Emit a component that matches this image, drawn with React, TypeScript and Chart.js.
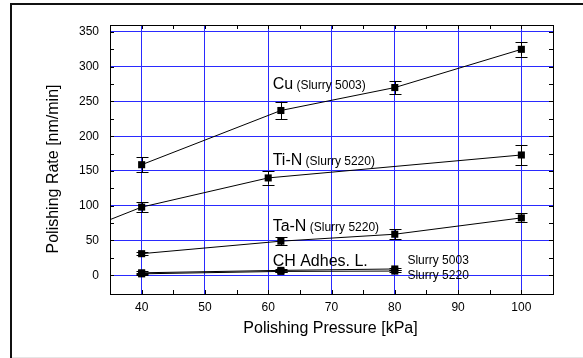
import React, { useEffect, useRef } from "react";
import { Chart, registerables } from "chart.js";

Chart.register(...registerables);

// ---- data ----
const xTicks = [40, 50, 60, 70, 80, 90, 100];
const yTicks = [0, 50, 100, 150, 200, 250, 300, 350];

const cuX = [40, 62, 80, 100];
const cuY = [159, 237, 270, 325];
const cuErr = [11, 12.5, 9.5, 10.5];

const tinX = [35, 40, 60, 100];
const tinY = [80, 98, 140, 173];
const tinErr = [0, 7, 9.5, 14.5];
const tinMarker = [0, 1, 1, 1];

const tanX = [40, 62, 80, 100];
const tanY = [31, 49, 59, 82.5];
const tanErr = [2.5, 6, 7.5, 6.5];

const ch5003X = [40, 62, 80];
const ch5003Y = [3.5, 7, 9];
const ch5003Err = [2, 2, 2];

const ch5220X = [40, 62, 80];
const ch5220Y = [2, 5.5, 6];
const ch5220Err = [1.5, 1.5, 1.5];

// text annotations: [x, y (baseline, data units), [text, size] parts]
const notes: { x: number; y: number; parts: [string, number][] }[] = [
  { x: 60.7, y: 268, parts: [["Cu", 16], [" (Slurry 5003)", 12]] },
  { x: 60.7, y: 158.5, parts: [["Ti-N", 16], [" (Slurry 5220)", 12]] },
  { x: 60.7, y: 63, parts: [["Ta-N", 16], [" (Slurry 5220)", 12]] },
  { x: 60.7, y: 14, parts: [["CH Adhes. L.", 16]] },
  { x: 82, y: 15.5, parts: [["Slurry 5003", 12]] },
  { x: 82, y: -6, parts: [["Slurry 5220", 12]] },
];

const xTitle = "Polishing Pressure [kPa]";
const yTitle = "Polishing Rate [nm/min]";

const FONT = "'Liberation Sans', Arial, sans-serif";

function pts(xs: number[], ys: number[]) {
  return xs.map((x, i) => ({ x, y: ys[i] }));
}

export default function App() {
  const ref = useRef<HTMLCanvasElement | null>(null);

  useEffect(() => {
    if (!ref.current) return;

    const mk = (label: string, xs: number[], ys: number[], err: number[], marker?: number[]) => ({
      label,
      data: pts(xs, ys),
      err,
      borderColor: "#000",
      backgroundColor: "#000",
      borderWidth: 1,
      pointStyle: "rect",
      pointRadius: marker ? marker.map((m) => (m ? 5 : 0)) : 5,
      pointBorderWidth: 0,
      showLine: true,
      tension: 0,
    });

    const decor = {
      id: "decor",
      beforeDraw(chart: any) {
        const c = chart.ctx;
        c.save();
        c.fillStyle = "#fff";
        c.fillRect(0, 0, chart.width, chart.height);
        // outer frame (left + top)
        c.fillStyle = "#111";
        c.fillRect(10, 3, 2, chart.height - 3);
        c.fillRect(10, 3, chart.width - 10, 2);
        c.fillStyle = "#e6e6e6";
        c.fillRect(12, chart.height - 1, chart.width - 12, 1);
        c.restore();
      },
      afterDatasetsDraw(chart: any) {
        const c = chart.ctx;
        const xs = chart.scales.x;
        const ys = chart.scales.y;
        c.save();
        c.strokeStyle = "#000";
        c.lineWidth = 1;
        chart.data.datasets.forEach((ds: any) => {
          ds.data.forEach((p: any, i: number) => {
            const e = ds.err ? ds.err[i] : 0;
            if (!e) return;
            const px = Math.round(xs.getPixelForValue(p.x)) + 0.5;
            const y1 = ys.getPixelForValue(p.y + e);
            const y2 = ys.getPixelForValue(p.y - e);
            c.beginPath();
            c.moveTo(px, y1);
            c.lineTo(px, y2);
            c.moveTo(px - 6, Math.round(y1) + 0.5);
            c.lineTo(px + 6, Math.round(y1) + 0.5);
            c.moveTo(px - 6, Math.round(y2) + 0.5);
            c.lineTo(px + 6, Math.round(y2) + 0.5);
            c.stroke();
          });
        });
        c.restore();
      },
      afterDraw(chart: any) {
        const c = chart.ctx;
        const a = chart.chartArea;
        const xs = chart.scales.x;
        const ys = chart.scales.y;
        c.save();
        // plot border
        c.strokeStyle = "#000";
        c.lineWidth = 1;
        c.strokeRect(Math.round(a.left) + 0.5, Math.round(a.top) + 0.5, Math.round(a.right - a.left), Math.round(a.bottom - a.top));
        // inward ticks
        c.beginPath();
        for (let v = 35; v <= 105; v += 5) {
          const px = Math.round(xs.getPixelForValue(v)) + 0.5;
          if (px <= a.left + 1 || px >= a.right - 1) continue;
          c.moveTo(px, a.bottom);
          c.lineTo(px, a.bottom - 4);
          c.moveTo(px, a.top);
          c.lineTo(px, a.top + 4);
        }
        for (let v = -25; v <= 350; v += 25) {
          const py = Math.round(ys.getPixelForValue(v)) + 0.5;
          if (py <= a.top + 1 || py >= a.bottom - 1) continue;
          c.moveTo(a.left, py);
          c.lineTo(a.left + 4, py);
          c.moveTo(a.right, py);
          c.lineTo(a.right - 4, py);
        }
        c.stroke();
        // annotations
        c.fillStyle = "#000";
        c.textBaseline = "alphabetic";
        c.textAlign = "left";
        notes.forEach((n) => {
          let x = xs.getPixelForValue(n.x);
          const y = ys.getPixelForValue(n.y);
          n.parts.forEach(([t, s]) => {
            c.font = `${s}px ${FONT}`;
            c.fillText(t, x, y);
            x += c.measureText(t).width;
          });
        });
        // axis titles
        c.font = `16px ${FONT}`;
        c.textAlign = "center";
        c.fillText(xTitle, 330.5, 333);
        c.translate(58, 169);
        c.rotate(-Math.PI / 2);
        c.textBaseline = "alphabetic";
        c.fillText(yTitle, 0, 0);
        c.restore();
      },
    };

    const chart = new Chart(ref.current, {
      type: "scatter",
      data: {
        datasets: [
          mk("Cu", cuX, cuY, cuErr),
          mk("Ti-N", tinX, tinY, tinErr, tinMarker),
          mk("Ta-N", tanX, tanY, tanErr),
          mk("CH 5003", ch5003X, ch5003Y, ch5003Err),
          mk("CH 5220", ch5220X, ch5220Y, ch5220Err),
        ] as any,
      },
      options: {
        animation: false,
        responsive: false,
        layout: { padding: { left: 0, top: 25, right: 30, bottom: 0 } },
        plugins: { legend: { display: false }, tooltip: { enabled: false } },
        scales: {
          x: {
            type: "linear",
            min: 35,
            max: 105,
            afterBuildTicks: (s: any) => {
              s.ticks = xTicks.map((v) => ({ value: v }));
            },
            afterFit: (s: any) => {
              s.height = 64;
            },
            grid: { color: "#2a2aff", lineWidth: 1, drawTicks: false },
            border: { display: false },
            ticks: { color: "#000", font: { family: FONT, size: 12 }, padding: 6, maxRotation: 0 },
          },
          y: {
            type: "linear",
            min: -27,
            max: 360,
            afterBuildTicks: (s: any) => {
              s.ticks = yTicks.map((v) => ({ value: v }));
            },
            afterFit: (s: any) => {
              s.width = 110;
            },
            grid: { color: "#2a2aff", lineWidth: 1, drawTicks: false },
            border: { display: false },
            ticks: { color: "#000", font: { family: FONT, size: 12 }, padding: 11 },
          },
        },
      } as any,
      plugins: [decor],
    });

    return () => chart.destroy();
  }, []);

  return (
    <div style={{ position: "absolute", left: 0, top: 0, width: 583, height: 358 }}>
      <canvas ref={ref} width={583} height={358} style={{ display: "block", width: 583, height: 358 }} />
    </div>
  );
}
